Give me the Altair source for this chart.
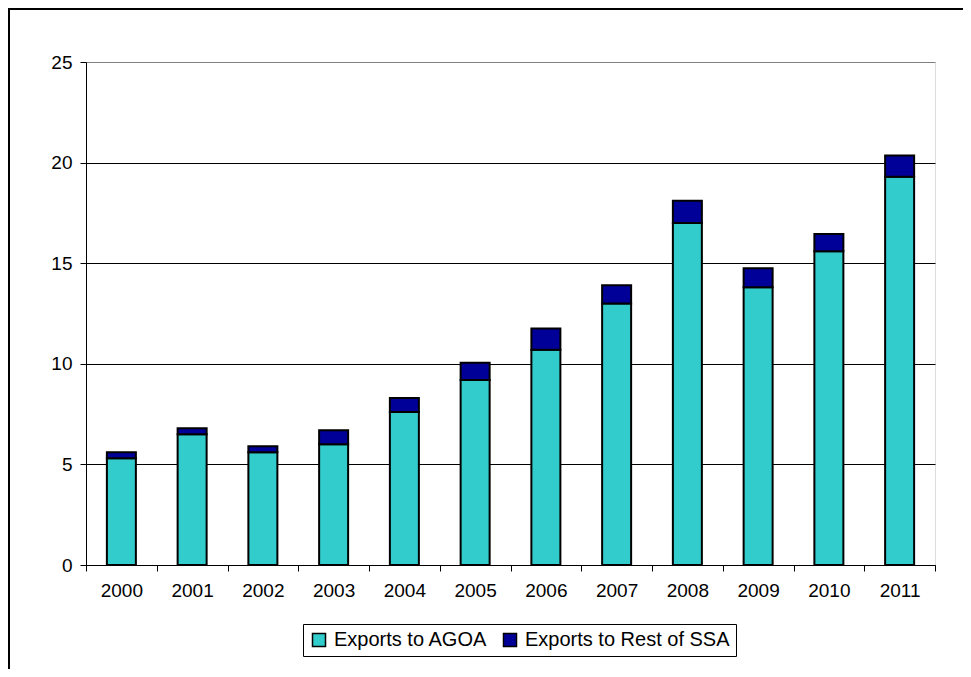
import altair as alt
import pandas as pd

years = ["2000", "2001", "2002", "2003", "2004", "2005", "2006", "2007", "2008", "2009", "2010", "2011"]
agoa = [5.3, 6.5, 5.6, 6.0, 7.6, 9.2, 10.7, 13.0, 17.0, 13.8, 15.6, 19.3]
rest = [0.3, 0.3, 0.3, 0.7, 0.7, 0.85, 1.05, 0.9, 1.1, 0.95, 0.85, 1.05]
series = ["Exports to AGOA", "Exports to Rest of SSA"]
colors = ["#33CCCC", "#000099"]

rows = []
for y, a, r in zip(years, agoa, rest):
    rows.append({"year": y, "series": series[0], "k": 0, "value": a})
    rows.append({"year": y, "series": series[1], "k": 1, "value": r})
df = pd.DataFrame(rows)

W, H = 849, 503
FONT = "Liberation Sans"

bars = alt.Chart(df).mark_bar(size=29, stroke="black", strokeWidth=2).encode(
    x=alt.X("year:N", sort=years, title=None,
            scale=alt.Scale(paddingInner=0, paddingOuter=0),
            axis=alt.Axis(tickBand="extent", labelAngle=0, labelFontSize=19,
                          labelColor="black", labelFont=FONT, domainColor="black",
                          tickColor="black", tickSize=6, labelPadding=10,
                          domainWidth=1, tickWidth=1)),
    y=alt.Y("value:Q", stack="zero", title=None,
            scale=alt.Scale(domain=[0, 25], nice=False),
            axis=alt.Axis(values=[0, 5, 10, 15, 20, 25], labelFontSize=19,
                          labelColor="black", labelFont=FONT, domainColor="black",
                          tickColor="black", tickSize=6, labelPadding=8,
                          grid=True,
                          gridColor={"condition": {"test": "datum.value === 25", "value": "#808080"}, "value": "black"},
                          gridWidth=1, domainWidth=1, tickWidth=1)),
    color=alt.Color("series:N", scale=alt.Scale(domain=series, range=colors), title=None,
                    legend=alt.Legend(orient="none", legendX=217, legendY=562,
                                      direction="horizontal", symbolType="square",
                                      symbolSize=169, symbolStrokeColor="black",
                                      symbolStrokeWidth=1.5, labelFontSize=20,
                                      labelFont=FONT, labelColor="black",
                                      labelOffset=5, columnPadding=12,
                                      strokeColor="black", padding=6,
                                      fillColor="white", labelLimit=400)),
    order=alt.Order("k:Q"),
)

frame = alt.Chart(pd.DataFrame({"a": [0]})).mark_rect(
    fill=None, stroke="black", strokeWidth=2, clip=False
).encode(x=alt.value(-77), x2=alt.value(1000), y=alt.value(-53), y2=alt.value(700))

chart = alt.layer(bars, frame).properties(
    width=W, height=H,
    autosize=alt.AutoSizeParams(type="none"),
    padding={"left": 78, "top": 54, "right": 28, "bottom": 104},
).configure_view(stroke="#808080", strokeWidth=1.5).configure(background="white")

chart.save("out.html", embed_options={"renderer": "svg", "actions": False})
